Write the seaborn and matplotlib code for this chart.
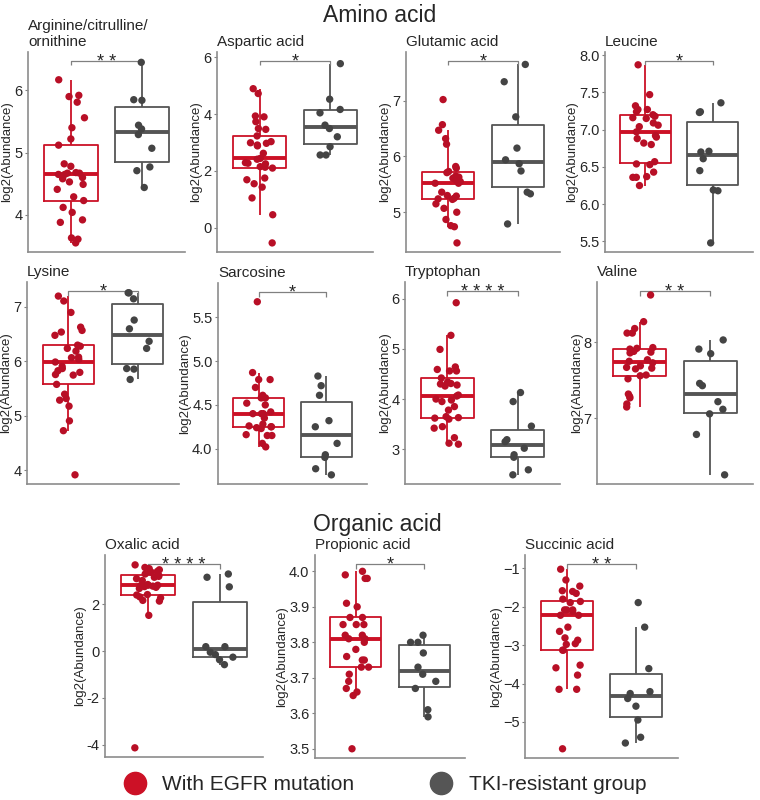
import numpy as np
import pandas as pd
import matplotlib
matplotlib.use("Agg")
import matplotlib.pyplot as plt
from matplotlib.lines import Line2D
import seaborn as sns

groups = ["With EGFR mutation", "TKI-resistant group"]

# values (log2 abundance)
arginine_egfr = [6.17, 5.92, 5.90, 5.81, 5.56, 5.40, 5.22, 5.12, 4.82, 4.78, 4.68, 4.67, 4.67, 4.65,
                 4.65, 4.60, 4.58, 4.53, 4.49, 4.41, 4.29, 4.23, 4.12, 4.04, 3.92, 3.88, 3.63, 3.61, 3.55]
arginine_tki = [6.45, 5.85, 5.84, 5.44, 5.38, 5.29, 5.07, 4.77, 4.71, 4.44]

aspartic_egfr = [4.89, 4.72, 3.93, 3.90, 3.73, 3.49, 3.46, 3.23, 3.03, 2.99, 2.97, 2.91, 2.88, 2.62, 2.44,
                 2.41, 2.29, 2.27, 2.25, 2.15, 2.13, 2.10, 1.75, 1.69, 1.55, 1.43, 1.05, 0.46, -0.53]
aspartic_tki = [5.77, 4.52, 4.16, 4.04, 3.61, 3.49, 3.20, 2.85, 2.56, 2.56]

glutamic_egfr = [7.02, 6.57, 6.47, 6.32, 6.22, 5.82, 5.79, 5.73, 5.71, 5.65, 5.63, 5.61, 5.57, 5.55, 5.52,
                 5.52, 5.36, 5.30, 5.29, 5.25, 5.24, 5.23, 5.15, 5.07, 5.00, 4.87, 4.76, 4.74, 4.45]
glutamic_tki = [7.65, 7.34, 6.71, 6.15, 5.94, 5.87, 5.74, 5.36, 5.33, 4.79]

leucine_egfr = [7.87, 7.47, 7.32, 7.27, 7.27, 7.24, 7.20, 7.18, 7.16, 7.15, 7.09, 7.06, 7.04, 6.97,
                6.92, 6.90, 6.88, 6.82, 6.80, 6.57, 6.54, 6.53, 6.43, 6.37, 6.36, 6.36, 6.25]
leucine_tki = [7.36, 7.24, 7.23, 6.71, 6.70, 6.61, 6.45, 6.19, 6.18, 5.48]

lysine_egfr = [7.20, 7.11, 6.90, 6.63, 6.57, 6.54, 6.48, 6.30, 6.28, 6.24, 6.19, 6.08, 6.07, 6.04, 5.99,
               5.91, 5.87, 5.83, 5.80, 5.76, 5.75, 5.58, 5.40, 5.32, 5.29, 5.18, 4.91, 4.73, 3.92]
lysine_tki = [7.26, 7.26, 7.15, 6.76, 6.60, 6.37, 6.24, 5.87, 5.86, 5.67]

sarcosine_egfr = [5.68, 4.87, 4.79, 4.79, 4.70, 4.61, 4.58, 4.58, 4.52, 4.50, 4.42, 4.40, 4.40,
                  4.40, 4.35, 4.28, 4.26, 4.25, 4.25, 4.24, 4.23, 4.16, 4.15, 4.15, 4.06, 4.02]
sarcosine_tki = [4.83, 4.72, 4.61, 4.32, 4.25, 4.06, 3.93, 3.90, 3.77, 3.70]

tryptophan_egfr = [5.92, 5.27, 4.99, 4.64, 4.59, 4.56, 4.56, 4.42, 4.34, 4.31, 4.30, 4.28, 4.26, 4.08, 4.06,
                   4.00, 3.98, 3.95, 3.85, 3.78, 3.65, 3.63, 3.62, 3.60, 3.45, 3.42, 3.23, 3.12, 3.10]
tryptophan_tki = [4.13, 3.95, 3.46, 3.19, 3.15, 3.02, 2.89, 2.84, 2.59, 2.49]

valine_egfr = [8.62, 8.27, 8.18, 8.12, 8.12, 7.93, 7.92, 7.91, 7.88, 7.87, 7.86, 7.77, 7.75,
               7.73, 7.69, 7.67, 7.66, 7.65, 7.57, 7.56, 7.52, 7.32, 7.29, 7.27, 7.19, 7.15]
valine_tki = [8.03, 7.91, 7.85, 7.46, 7.43, 7.22, 7.12, 7.06, 6.79, 6.26]

oxalic_egfr = [3.69, 3.58, 3.53, 3.48, 3.41, 3.38, 3.30, 3.27, 3.24, 3.20, 3.16, 3.10, 3.02, 2.85, 2.82,
               2.82, 2.80, 2.78, 2.76, 2.73, 2.68, 2.42, 2.40, 2.32, 2.28, 2.17, 2.14, 1.53, -4.14]
oxalic_tki = [3.30, 3.16, 2.75, 0.19, 0.19, -0.05, -0.15, -0.26, -0.37, -0.58]

propionic_egfr = [4.00, 3.99, 3.98, 3.98, 3.91, 3.90, 3.87, 3.87, 3.85, 3.85, 3.85, 3.82, 3.82, 3.81,
                  3.81, 3.80, 3.78, 3.76, 3.75, 3.75, 3.73, 3.73, 3.71, 3.69, 3.67, 3.66, 3.65, 3.50]
propionic_tki = [3.82, 3.80, 3.80, 3.77, 3.73, 3.71, 3.69, 3.67, 3.61, 3.59]

succinic_egfr = [-1.02, -1.30, -1.46, -1.58, -1.60, -1.65, -1.80, -1.86, -1.89, -2.08, -2.08, -2.08, -2.12,
                 -2.22, -2.22, -2.53, -2.64, -2.81, -2.87, -2.96, -2.98, -3.13, -3.13, -3.52, -3.59,
                 -3.78, -4.15, -4.15, -5.70]
succinic_tki = [-1.89, -2.53, -3.61, -4.21, -4.26, -4.39, -4.59, -4.95, -5.40, -5.55]

panel_names = ["Arginine/citrulline/\nornithine", "Aspartic acid", "Glutamic acid", "Leucine",
               "Lysine", "Sarcosine", "Tryptophan", "Valine",
               "Oxalic acid", "Propionic acid", "Succinic acid"]
egfr_values = [arginine_egfr, aspartic_egfr, glutamic_egfr, leucine_egfr, lysine_egfr, sarcosine_egfr,
               tryptophan_egfr, valine_egfr, oxalic_egfr, propionic_egfr, succinic_egfr]
tki_values = [arginine_tki, aspartic_tki, glutamic_tki, leucine_tki, lysine_tki, sarcosine_tki,
              tryptophan_tki, valine_tki, oxalic_tki, propionic_tki, succinic_tki]
stars = ["**", "*", "*", "*", "*", "*", "****", "**", "****", "*", "**"]
bracket_y = [6.47, 5.86, 7.71, 7.92, 7.29, 5.79, 6.15, 8.67, 3.72, 4.02, -0.89]
yticks = [[4, 5, 6], [0, 2, 4, 6], [5, 6, 7], [5.5, 6.0, 6.5, 7.0, 7.5, 8.0],
          [4, 5, 6, 7], [4.0, 4.5, 5.0, 5.5], [3, 4, 5, 6], [7, 8],
          [-4, -2, 0, 2], [3.5, 3.6, 3.7, 3.8, 3.9, 4.0], [-5, -4, -3, -2, -1]]
ytick_labels = [["4", "5", "6"], ["0", "2", "4", "6"], ["5", "6", "7"],
                ["5.5", "6.0", "6.5", "7.0", "7.5", "8.0"], ["4", "5", "6", "7"],
                ["4.0", "4.5", "5.0", "5.5"], ["3", "4", "5", "6"], ["7", "8"],
                ["-4", "-2", "0", "2"], ["3.5", "3.6", "3.7", "3.8", "3.9", "4.0"],
                ["\u22125", "\u22124", "\u22123", "\u22122", "\u22121"]]

box_colors = {groups[0]: "#CC1126", groups[1]: "#555555"}
point_colors = {groups[0]: "#B80F26", groups[1]: "#444444"}

# panel rectangles in pixels: left, right, top, bottom
W, H = 760, 800
rects_px = [(28, 185, 52, 252), (217, 373, 52, 252), (406, 560, 52, 252), (605, 753, 52, 252),
            (27, 179, 282, 484), (218, 367, 283, 484), (405, 560, 282, 484), (597, 753, 282, 484),
            (105, 263, 555, 757), (315, 465, 555, 758), (525, 678, 555, 758)]

sns.set_theme(style="white")
plt.rcParams["font.family"] = ["Liberation Sans", "DejaVu Sans"]

fig = plt.figure(figsize=(W / 100, H / 100), dpi=100)
np.random.seed(7)

for i, name in enumerate(panel_names):
    l, r, t, b = rects_px[i]
    ax = fig.add_axes([l / W, 1 - b / H, (r - l) / W, (b - t) / H])
    a, c = egfr_values[i], tki_values[i]
    df = pd.DataFrame({"group": [groups[0]] * len(a) + [groups[1]] * len(c), "value": a + c})

    sns.boxplot(data=df, x="group", y="value", hue="group", order=groups, hue_order=groups,
                palette=box_colors, saturation=1, fill=False, width=0.75, showfliers=False,
                linewidth=1.3, showcaps=False, medianprops={"linewidth": 2.8},
                legend=False, ax=ax)
    sns.stripplot(data=df, x="group", y="value", hue="group", order=groups, hue_order=groups,
                  palette=point_colors, jitter=0.2, size=5.3, linewidth=0, legend=False,
                  ax=ax, zorder=3)

    lo = min(a + c)
    hi = bracket_y[i]
    pad = 0.05 * (hi - lo)
    ax.set_ylim(lo - pad, hi + pad)
    ax.set_xlim(-0.6, 1.6)

    # significance bracket
    tip = 0.022 * (hi - lo + 2 * pad)
    ax.plot([0, 0, 1, 1], [hi - tip, hi, hi, hi - tip], color="#808080", lw=0.9,
            solid_capstyle="butt", clip_on=False)
    ax.annotate(" ".join(stars[i]), (0.5, hi), xytext=(0, -4), textcoords="offset points",
                ha="center", va="baseline", fontsize=13, annotation_clip=False)

    ax.set_yticks(yticks[i])
    ax.set_yticklabels(ytick_labels[i])
    ax.set_xticks([])
    ax.set_xlabel("")
    ax.set_ylabel("log2(Abundance)", fontsize=9.5, labelpad=0.5)
    ax.set_title(name, loc="left", fontsize=11, pad=4, linespacing=1.2)
    ax.tick_params(axis="y", labelsize=10.5, length=2.5, width=0.8, color="#808080", pad=1.5,
                   left=True)
    for side in ["top", "right"]:
        ax.spines[side].set_visible(False)
    for side in ["left", "bottom"]:
        ax.spines[side].set_color("#8c8c8c")
        ax.spines[side].set_linewidth(1.2)

fig.text(0.5, 1 - 15 / H, "Amino acid", ha="center", va="center", fontsize=16.5)
fig.text(0.497, 1 - 524 / H, "Organic acid", ha="center", va="center", fontsize=16.5)

handles = [Line2D([], [], marker="o", linestyle="", markersize=16,
                  markerfacecolor=box_colors[g], markeredgecolor=box_colors[g]) for g in groups]
fig.legend(handles, groups, loc="center", bbox_to_anchor=(0.5, 1 - 785 / H), ncol=2,
           frameon=False, fontsize=15, handletextpad=0.3, columnspacing=3.2)

fig.savefig("out.png", dpi=100)
